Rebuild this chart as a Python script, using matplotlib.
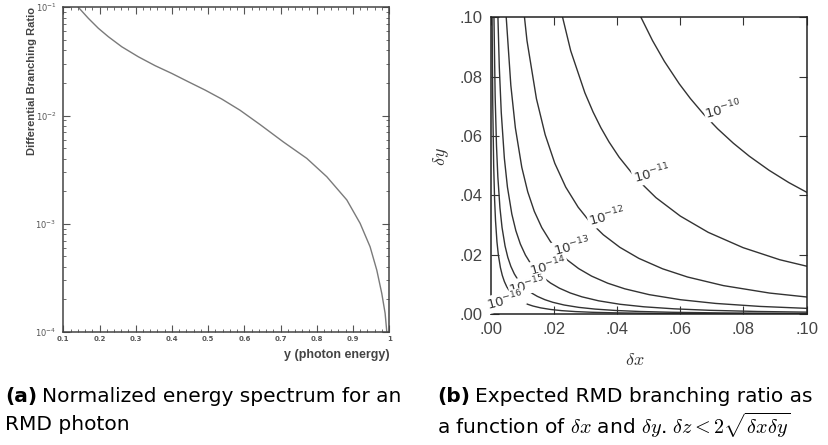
import matplotlib.pyplot as plt
from matplotlib.ticker import MultipleLocator, LogLocator, NullFormatter

plt.rcParams['mathtext.fontset'] = 'cm'

# ---- (a) normalized RMD photon energy spectrum ----
photon_y = [0.1415, 0.1691, 0.1967, 0.2243, 0.2614, 0.3072, 0.3534, 0.3995,
            0.4454, 0.4915, 0.5377, 0.5880, 0.6435, 0.7079, 0.7725, 0.8278,
            0.8831, 0.9198, 0.9474, 0.9659, 0.9797, 0.9889, 0.9936]
diff_br = [0.1000, 0.0791, 0.0640, 0.0535, 0.0432, 0.0349, 0.0289, 0.0245,
           0.0205, 0.0172, 0.0142, 0.0112, 0.00825, 0.00570, 0.00402, 0.00272,
           0.00166, 0.00101, 0.000613, 0.000373, 0.000227, 0.000149, 0.0001]

xticks_a = [0.1, 0.2, 0.3, 0.4, 0.5, 0.6, 0.7, 0.8, 0.9, 1.0]
xlabels_a = ['0.1', '0.2', '0.3', '0.4', '0.5', '0.6', '0.7', '0.8', '0.9', '1']
yticks_a = [1e-4, 1e-3, 1e-2, 1e-1]
ylabels_a = [r'$10^{-4}$', r'$10^{-3}$', r'$10^{-2}$', r'$10^{-1}$']

# ---- (b) contour lines of the expected branching ratio ----
dx_10 = [0.04380, 0.04761, 0.05123, 0.05498, 0.05970, 0.06320, 0.06740, 0.07182,
         0.07680, 0.08186, 0.08811, 0.09433, 0.1011]
dy_10 = [0.1095, 0.1000, 0.09222, 0.08522, 0.07762, 0.07268, 0.06740, 0.06248,
         0.05760, 0.05321, 0.04846, 0.04433, 0.04042]

dx_11 = [0.02131, 0.02536, 0.02984, 0.03244, 0.03490, 0.03746, 0.04068, 0.04592,
         0.05232, 0.06003, 0.06885, 0.07989, 0.09148, 0.1081]
dy_11 = [0.1066, 0.08877, 0.07460, 0.06812, 0.06283, 0.05806, 0.05288, 0.04592,
         0.03924, 0.03302, 0.02754, 0.02237, 0.01830, 0.01405]

dx_12 = [0.009431, 0.01153, 0.01452, 0.01728, 0.02033, 0.02378, 0.02771, 0.03128,
         0.03565, 0.04090, 0.04691, 0.05443, 0.06232, 0.07365, 0.08826, 0.1045]
dy_12 = [0.1132, 0.09221, 0.07260, 0.06048, 0.05082, 0.04280, 0.03603, 0.03128,
         0.02674, 0.02249, 0.01876, 0.01524, 0.01247, 0.009575, 0.007060, 0.005227]

dx_13 = [0.004075, 0.004987, 0.006425, 0.007852, 0.009892, 0.01177, 0.01385,
         0.01620, 0.01888, 0.02131, 0.02429, 0.02786, 0.03196, 0.03708, 0.04246,
         0.05018, 0.06013, 0.07122, 0.08519, 0.1016]
dy_13 = [0.1223, 0.09974, 0.07710, 0.06282, 0.04946, 0.04120, 0.03462, 0.02916,
         0.02454, 0.02131, 0.01821, 0.01532, 0.01278, 0.01038, 0.008492, 0.006523,
         0.004810, 0.003561, 0.002556, 0.001828]

dx_14 = [0.002152, 0.002776, 0.003398, 0.004377, 0.005350, 0.006740, 0.008020,
         0.009436, 0.01104, 0.01286, 0.01452, 0.01655, 0.01898, 0.02177, 0.02526,
         0.02893, 0.03419, 0.04096, 0.04852, 0.05804, 0.06920, 0.08450, 0.1067]
dy_14 = [0.1076, 0.08329, 0.06795, 0.05252, 0.04280, 0.03370, 0.02807, 0.02359,
         0.01987, 0.01672, 0.01452, 0.01241, 0.01044, 0.008709, 0.007074, 0.005785,
         0.004444, 0.003277, 0.002426, 0.001741, 0.001246, 0.0008450, 0.0005336]

dx_15 = [0.0007338, 0.001037, 0.001466, 0.001891, 0.002315, 0.002982, 0.003645,
         0.004592, 0.005464, 0.006429, 0.007520, 0.008763, 0.009893, 0.01127,
         0.01293, 0.01483, 0.01721, 0.01971, 0.02329, 0.02791, 0.03306, 0.03954,
         0.04715, 0.05757, 0.07271, 0.09884, 0.1246]
dy_15 = [0.1468, 0.1037, 0.07332, 0.05675, 0.04629, 0.03579, 0.02916, 0.02296,
         0.01912, 0.01607, 0.01354, 0.01139, 0.009893, 0.008454, 0.007113, 0.005933,
         0.004819, 0.003942, 0.003028, 0.002233, 0.001653, 0.001186, 0.0008487,
         0.0005757, 0.0003636, 0.0001977, 0.0001246]

dx_16 = [0.0003162, 0.0004999, 0.0007067, 0.000999, 0.001289, 0.001577, 0.002032,
         0.002483, 0.003128, 0.003723, 0.004380, 0.005123, 0.005970, 0.006740,
         0.007680, 0.008811, 0.01011, 0.01173, 0.01343, 0.01587, 0.01901, 0.02252,
         0.02694, 0.03212, 0.03922, 0.04954, 0.06734, 0.08486, 0.1070]
dy_16 = [0.1581, 0.09998, 0.07067, 0.04995, 0.03866, 0.03154, 0.02438, 0.01987,
         0.01564, 0.01303, 0.01095, 0.009222, 0.007762, 0.006740, 0.005760,
         0.004846, 0.004042, 0.003283, 0.002685, 0.002063, 0.001521, 0.001126,
         0.0008082, 0.0005782, 0.0003922, 0.0002477, 0.0001347, 0.00008486,
         0.00005348]

level_names = ['10^{-10}', '10^{-11}', '10^{-12}', '10^{-13}', '10^{-14}',
               '10^{-15}', '10^{-16}']
label_x = [0.0737, 0.0510, 0.0368, 0.0257, 0.0183, 0.0117, 0.0048]
label_y = [0.0689, 0.0473, 0.0329, 0.0227, 0.0160, 0.0098, 0.0045]

ticks_b = [0.0, 0.02, 0.04, 0.06, 0.08, 0.10]
ticklabels_b = ['.00', '.02', '.04', '.06', '.08', '.10']

caption_font = ['Liberation Sans Narrow', 'DejaVu Sans Condensed', 'DejaVu Sans']

fig = plt.figure(figsize=(8.29, 4.45), dpi=100)

# ---------------- panel (a) ----------------
ax1 = fig.add_axes([0.0764, 0.2539, 0.393, 0.7297])
ax1.plot(photon_y, diff_br, color='#7a7a7a', lw=1.0)
ax1.set_yscale('log')
ax1.set_xlim(0.1, 1.0)
ax1.set_ylim(1e-4, 1e-1)
ax1.set_xticks(xticks_a)
ax1.set_xticklabels(xlabels_a)
ax1.xaxis.set_minor_locator(MultipleLocator(0.02))
ax1.set_yticks(yticks_a)
ax1.set_yticklabels(ylabels_a)
ax1.yaxis.set_minor_locator(LogLocator(base=10, subs=range(2, 10)))
ax1.yaxis.set_minor_formatter(NullFormatter())
ax1.tick_params(which='both', direction='in', top=True, right=True,
                color='#555555', labelcolor='#555555')
ax1.tick_params(axis='x', labelsize=5, pad=3)
ax1.tick_params(axis='y', labelsize=6, pad=5)
ax1.tick_params(which='major', length=5, width=0.8)
ax1.tick_params(which='minor', length=2.5, width=0.6)
for lab in ax1.get_xticklabels():
    lab.set_fontweight('bold')
for lab in ax1.get_yticklabels():
    lab.set_math_fontfamily('dejavusans')
for s in ax1.spines.values():
    s.set_color('#444444')
    s.set_linewidth(1.1)
ax1.text(-0.096, 1.0, 'Differential Branching Ratio', transform=ax1.transAxes,
         rotation=90, ha='center', va='top', fontsize=8, fontweight='bold',
         family='Liberation Sans', color='#444444')
ax1.set_xlabel('y (photon energy)', loc='right', fontsize=9, fontweight='bold',
               family='Liberation Sans', color='#444444')
ax1.xaxis.set_label_coords(1.0, -0.052)

# ---------------- panel (b) ----------------
ax2 = fig.add_axes([0.5917, 0.2944, 0.3814, 0.6663])
curves = [(dx_10, dy_10), (dx_11, dy_11), (dx_12, dy_12), (dx_13, dy_13),
          (dx_14, dy_14), (dx_15, dy_15), (dx_16, dy_16)]
for cx, cy in curves:
    ax2.plot(cx, cy, color='#333333', lw=1.0)
for name, lx, ly in zip(level_names, label_x, label_y):
    ax2.text(lx, ly, '$' + name + '$', fontsize=9.5, color='#333333',
             ha='center', va='center', rotation=15, math_fontfamily='dejavusans',
             bbox=dict(boxstyle='square,pad=0.05', fc='white', ec='none'))
ax2.set_xlim(0, 0.1)
ax2.set_ylim(0, 0.1)
ax2.set_xticks(ticks_b)
ax2.set_xticklabels(ticklabels_b)
ax2.set_yticks(ticks_b)
ax2.set_yticklabels(ticklabels_b)
ax2.tick_params(direction='in', top=True, right=True, length=6, width=0.8,
                labelsize=12, labelcolor='#444444', color='#333333', pad=6)
for lab in ax2.get_xticklabels() + ax2.get_yticklabels():
    lab.set_family('Liberation Sans')
for s in ax2.spines.values():
    s.set_color('#222222')
    s.set_linewidth(1.1)
ax2.set_xlabel(r'$\delta x$', fontsize=13, color='#333333')
ax2.xaxis.set_label_coords(0.457, -0.125)
ax2.set_ylabel(r'$\delta y$', fontsize=13, color='#333333')
ax2.yaxis.set_label_coords(-0.125, 0.53)

# ---------------- captions ----------------
renderer = fig.canvas.get_renderer()
cap_size = 14.5


def caption(x, y, bold, rest):
    t = fig.text(x, y, bold, fontsize=cap_size, fontweight='bold',
                 family=caption_font, va='center', ha='left')
    bb = t.get_window_extent(renderer=renderer)
    x2 = bb.x1 / fig.bbox.width + 0.006
    fig.text(x2, y, rest, fontsize=cap_size, family=caption_font,
             va='center', ha='left')


caption(0.006, 0.108, '(a)', 'Normalized energy spectrum for an')
fig.text(0.006, 0.045, 'RMD photon', fontsize=cap_size, family=caption_font,
         va='center', ha='left')
caption(0.527, 0.108, '(b)', 'Expected RMD branching ratio as')
fig.text(0.527, 0.045,
         r'a function of $\delta x$ and $\delta y$. $\delta z < 2\sqrt{\delta x\delta y}$',
         fontsize=cap_size, family=caption_font, va='center', ha='left')

fig.savefig('out.png', dpi=100)
